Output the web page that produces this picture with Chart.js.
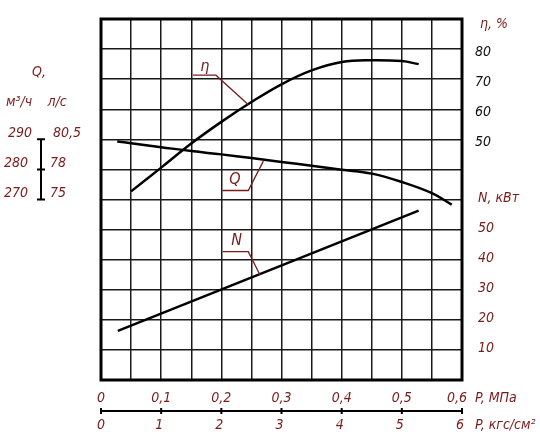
<!DOCTYPE html>
<html>
<head>
<meta charset="utf-8">
<script src="https://cdn.jsdelivr.net/npm/chart.js@4.4.1/dist/chart.umd.min.js"></script>
<style>
  body { margin: 0; background: #fff; }
  canvas { display: block; }
</style>
</head>
<body>
<canvas id="canvas" width="540" height="438"></canvas>
<script>
// efficiency curve, eta %
const etaPressure = [0.05, 0.1, 0.15, 0.2, 0.25, 0.3, 0.35, 0.4, 0.45, 0.5, 0.528];
const etaValues = [32.7, 40.6, 48.6, 55.8, 62.4, 68.3, 72.9, 75.7, 76.3, 76.0, 75.0];

// flow curve, m3/h
const flowPressure = [0.027, 0.05, 0.1, 0.15, 0.2, 0.25, 0.3, 0.35, 0.4, 0.45, 0.5, 0.55, 0.583];
const flowValues = [289.3, 288.7, 287.4, 286.1, 285.0, 283.8, 282.5, 281.2, 279.9, 278.6, 275.8, 272.1, 268.3];

// power, kW
const powerPressure = [0.028, 0.528];
const powerValues = [16.3, 56.3];

// axis labels
const etaTicks = [80, 70, 60, 50];
const powerTicks = [50, 40, 30, 20, 10];
const flowTicksM3h = [290, 280, 270];
const flowTicksLs = ['80,5', '78', '75'];
const mpaTicks = [0, 0.1, 0.2, 0.3, 0.4, 0.5, 0.6];
const kgfTicks = [0, 1, 2, 3, 4, 5, 6];

const RED = '#7a1c1c';
const FAMILY = '"Liberation Sans Narrow", "DejaVu Sans Condensed", "Liberation Sans", sans-serif';
const FONT = 'italic 14px ' + FAMILY;

function pts(xs, ys) {
    return xs.map((x, i) => ({ x: x, y: ys[i] }));
}

const lineStyle = {
    borderColor: '#000',
    borderWidth: 2.5,
    pointRadius: 0,
    fill: false,
    tension: 0.4
};

const framePlugin = {
    id: 'frame',
    beforeDatasetsDraw(chart) {
        const a = chart.chartArea;
        const ctx = chart.ctx;
        ctx.save();
        ctx.strokeStyle = '#000';
        ctx.lineWidth = 3;
        ctx.strokeRect(a.left, a.top, a.right - a.left, a.bottom - a.top);
        ctx.restore();
    }
};

const labelsPlugin = {
    id: 'labels',
    afterDraw(chart) {
        const ctx = chart.ctx;
        const x = chart.scales.x;
        const yE = chart.scales.y;
        const yN = chart.scales.yN;
        const yQ = chart.scales.yQ;
        const a = chart.chartArea;
        ctx.save();
        ctx.font = FONT;
        ctx.textBaseline = 'middle';

        // right side: efficiency
        ctx.textAlign = 'left';
        ctx.fillStyle = RED;
        ctx.fillText('η, %', a.right + 18, 24);
        ctx.fillStyle = '#111';
        etaTicks.forEach(v => ctx.fillText(String(v), a.right + 13, yE.getPixelForValue(v) + 3));

        // right side: power
        ctx.fillStyle = RED;
        ctx.fillText('N, кВт', a.right + 16, yN.getPixelForValue(60) - 1.5);
        powerTicks.forEach(v => ctx.fillText(String(v), a.right + 16, yN.getPixelForValue(v) - 1.5));

        // left side: flow
        ctx.textAlign = 'center';
        ctx.fillText('Q,', 39, 72);
        ctx.fillText('м³/ч', 19, 102);
        ctx.fillText('л/с', 57, 102);
        flowTicksM3h.forEach((v, i) => {
            const py = yQ.getPixelForValue(v);
            ctx.textAlign = 'right';
            ctx.fillText(String(v), i === 0 ? 32 : 28, py - 6);
            ctx.textAlign = 'left';
            ctx.fillText(flowTicksLs[i], i === 0 ? 53 : 50, py - 6);
        });
        ctx.strokeStyle = '#000';
        ctx.lineWidth = 2;
        const qTop = yQ.getPixelForValue(flowTicksM3h[0]);
        const qBot = yQ.getPixelForValue(flowTicksM3h[flowTicksM3h.length - 1]);
        ctx.beginPath();
        ctx.moveTo(41, qTop);
        ctx.lineTo(41, qBot);
        flowTicksM3h.forEach(v => {
            const py = yQ.getPixelForValue(v);
            ctx.moveTo(37, py);
            ctx.lineTo(45, py);
        });
        ctx.stroke();

        // bottom pressure scale
        const axisY = 411;
        ctx.beginPath();
        ctx.moveTo(a.left, axisY);
        ctx.lineTo(a.right, axisY);
        mpaTicks.forEach(v => {
            const px = x.getPixelForValue(v);
            ctx.moveTo(px, axisY - 3);
            ctx.lineTo(px, axisY + 3);
        });
        ctx.stroke();

        ctx.fillStyle = RED;
        ctx.textAlign = 'center';
        mpaTicks.forEach((v, i) => {
            const px = x.getPixelForValue(v);
            const txt = v === 0 ? '0' : v.toFixed(1).replace('.', ',');
            ctx.fillText(txt, i === mpaTicks.length - 1 ? px - 5 : px, 398);
        });
        kgfTicks.forEach(v => {
            const px = x.getPixelForValue(v / 10);
            ctx.fillText(String(v), v === 0 ? px : px - 2, 425);
        });
        ctx.textAlign = 'left';
        ctx.fillText('P, МПа', a.right + 13, 398);
        ctx.fillText('P, кгс/см²', a.right + 13, 425);

        // curve captions with leader lines (positions in scale units of x / eta)
        const callouts = [
            { t: 'η', tx: 0.1724, ty: 74.0, u0: 0.1529, u1: 0.191, uy: 71.33, ex: 0.2445, ey: 61.57 },
            { t: 'Q', tx: 0.2227, ty: 36.67, u0: 0.2016, u1: 0.2448, uy: 33.0, ex: 0.2698, ey: 42.77 },
            { t: 'N', tx: 0.2256, ty: 16.33, u0: 0.2022, u1: 0.2448, uy: 12.67, ex: 0.2643, ey: 4.9 }
        ];
        ctx.strokeStyle = RED;
        ctx.lineWidth = 1.3;
        ctx.font = 'italic 16px ' + FAMILY;
        ctx.textAlign = 'center';
        callouts.forEach(c => {
            const uy = yE.getPixelForValue(c.uy);
            ctx.beginPath();
            ctx.moveTo(x.getPixelForValue(c.u0), uy);
            ctx.lineTo(x.getPixelForValue(c.u1), uy);
            ctx.lineTo(x.getPixelForValue(c.ex), yE.getPixelForValue(c.ey));
            ctx.stroke();
            ctx.fillText(c.t, x.getPixelForValue(c.tx), yE.getPixelForValue(c.ty));
        });
        ctx.restore();
    }
};

new Chart(document.getElementById('canvas').getContext('2d'), {
    type: 'line',
    data: {
        datasets: [
            Object.assign({ label: 'η', data: pts(etaPressure, etaValues), yAxisID: 'y' }, lineStyle),
            Object.assign({ label: 'Q', data: pts(flowPressure, flowValues), yAxisID: 'yQ' }, lineStyle),
            Object.assign({ label: 'N', data: pts(powerPressure, powerValues), yAxisID: 'yN' }, lineStyle, { tension: 0 })
        ]
    },
    options: {
        responsive: false,
        animation: false,
        devicePixelRatio: 1,
        layout: { padding: { left: 101, right: 78, top: 19, bottom: 58 } },
        plugins: { legend: { display: false }, tooltip: { enabled: false } },
        scales: {
            x: {
                type: 'linear', min: 0, max: 0.6,
                ticks: { display: false, stepSize: 0.05 },
                grid: { color: '#1a1a1a', lineWidth: 1.5, drawTicks: false },
                border: { display: false }
            },
            y: {
                min: -30, max: 90,
                ticks: { display: false, stepSize: 10 },
                grid: { color: '#1a1a1a', lineWidth: 1.5, drawTicks: false },
                border: { display: false }
            },
            yN: { min: 0, max: 120, display: false },
            yQ: { min: 210, max: 330, display: false }
        }
    },
    plugins: [framePlugin, labelsPlugin]
});
</script>
</body>
</html>
